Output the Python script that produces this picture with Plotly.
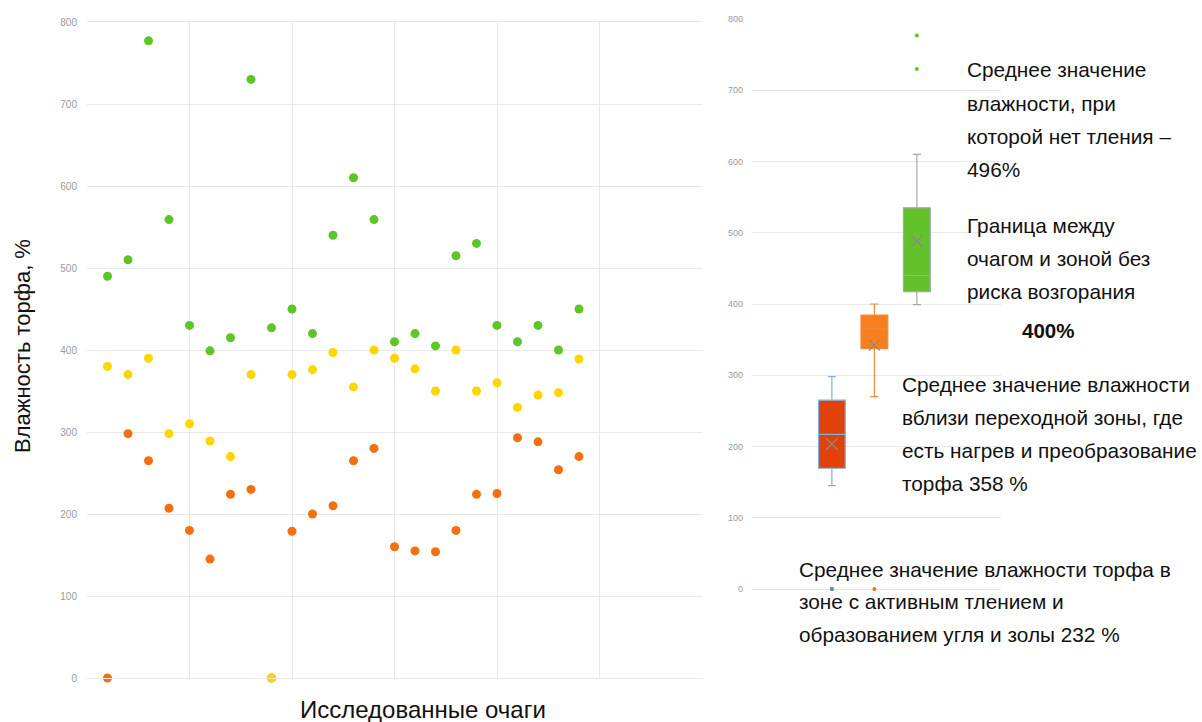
import numpy as np
import plotly.graph_objects as go

# ---------------- data ----------------
foci = list(range(1, 25))
green_vals = [490, 510, 777, 559, 430, 399, 415, 730, 427, 450, 420, 540,
              610, 559, 410, 420, 405, 515, 530, 430, 410, 430, 400, 450]
yellow_vals = [380, 370, 390, 298, 310, 289, 270, 370, 0, 370, 376, 397,
               355, 400, 390, 377, 350, 400, 350, 360, 330, 345, 348, 389]
orange_vals = [0, 298, 265, 207, 180, 145, 224, 230, 0, 179, 200, 210,
               265, 280, 160, 155, 154, 180, 224, 225, 293, 288, 254, 270]

box_names = ["Активное тление", "Переходная зона", "Без тления"]
y_ticks = [0, 100, 200, 300, 400, 500, 600, 700, 800]

y_title = "Влажность торфа, %"
x_title = "Исследованные очаги"
note_green = ["Среднее значение", "влажности, при", "которой нет тления –", "496%"]
note_border = ["Граница между", "очагом и зоной без", "риска возгорания"]
note_border_val = "400%"
note_trans = ["Среднее значение влажности", "вблизи переходной зоны, где",
              "есть нагрев и преобразование", "торфа 358 %"]
note_active = ["Среднее значение влажности торфа в", "зоне с активным тлением и",
               "образованием угля и золы 232 %"]

# ---------------- styling ----------------
W, H = 1202, 722
FONT = "Liberation Sans"
GRID = "#E8E8E8"
TICK = "#9A9A9A"
C_GREEN = "#5DC52A"
C_YELLOW = "#FFD500"
C_ORANGE = "#F4700E"


def px(x):
    return x / W


def py(y):
    return 1 - y / H


fig = go.Figure()

# scatter panel (orange drawn before yellow so the yellow zero stays visible)
for vals, col in [(green_vals, C_GREEN), (orange_vals, C_ORANGE), (yellow_vals, C_YELLOW)]:
    fig.add_trace(go.Scatter(x=foci, y=vals, mode="markers", cliponaxis=False,
                             marker=dict(color=col, size=9, line=dict(width=0)),
                             xaxis="x", yaxis="y", showlegend=False))

# box panel
box_data = [orange_vals, yellow_vals, green_vals]
box_fill = ["#E0420A", "#F77F1E", "#63C22B"]
box_line = ["#7FB2E0", "#EE8A3C", "#A6A6A6"]
out_col = ["#6E86A8", "#F4700E", C_GREEN]
for name, vals, fc, lc, oc in zip(box_names, box_data, box_fill, box_line, out_col):
    fig.add_trace(go.Box(y=vals, x=[name] * len(vals), name=name,
                         quartilemethod="exclusive", boxpoints="outliers",
                         fillcolor=fc, line=dict(color=lc, width=1.2),
                         marker=dict(color=oc, size=4),
                         whiskerwidth=0.3, xaxis="x2", yaxis="y2",
                         showlegend=False))
    fig.add_trace(go.Scatter(x=[name], y=[float(np.mean(vals))], mode="markers",
                             marker=dict(symbol="x-thin", size=11,
                                         line=dict(width=1.3, color="#8A8A8A")),
                             xaxis="x2", yaxis="y2", showlegend=False))

# right panel: 0 at y=589px, 800 at y=19px; range padded below so 0-outliers are not clipped
pad_units = 8
unit_px = (589 - 19) / 800

fig.update_layout(
    width=W, height=H, autosize=False,
    margin=dict(l=0, r=0, t=0, b=0, pad=0, autoexpand=False),
    paper_bgcolor="white", plot_bgcolor="white",
    boxmode="overlay", boxgap=0.1,
    font=dict(family=FONT, color="#222222"),
    xaxis=dict(domain=[px(87), px(702)], range=[0, 30], dtick=5, tick0=0,
               showticklabels=False, showgrid=True, gridcolor=GRID, gridwidth=1.3,
               zeroline=False, showline=True, linecolor=GRID, linewidth=1.3, mirror=True,
               ticks=""),
    yaxis=dict(domain=[py(678), py(22)], range=[0, 800], tickvals=y_ticks,
               showgrid=True, gridcolor=GRID, gridwidth=1.3, zeroline=False,
               showline=False, ticks="", ticklabelstandoff=9,
               tickfont=dict(size=10, color=TICK, family=FONT)),
    xaxis2=dict(domain=[px(752), px(1001)], type="category",
                range=[-1.88, 3.98], showticklabels=False, showgrid=False,
                zeroline=False, showline=False, ticks="", anchor="y2"),
    yaxis2=dict(domain=[py(589 + pad_units * unit_px), py(19)], range=[-pad_units, 800],
                tickvals=y_ticks,
                showgrid=True, gridcolor=GRID, gridwidth=1.3, zeroline=False,
                showline=False, ticks="", anchor="x2", ticklabelstandoff=8,
                tickfont=dict(size=9, color=TICK, family=FONT)),
)

ann = []
ann.append(dict(text=y_title, x=px(22), y=py(346), textangle=-90,
                font=dict(size=22, color="#111111", family=FONT)))
ann.append(dict(text=x_title, x=px(423), y=py(709),
                font=dict(size=24, color="#111111", family=FONT)))


def block(lines, x_left, y_first, step=33.3, size=20.8):
    for i, t in enumerate(lines):
        ann.append(dict(text=t, x=px(x_left), y=py(y_first + i * step), xanchor="left",
                        font=dict(size=size, color="#111111", family=FONT)))


block(note_green, 965, 70)
block(note_border, 965, 225)
ann.append(dict(text="<b>" + note_border_val + "</b>", x=px(1048), y=py(330),
                font=dict(size=20.5, color="#111111", family=FONT)))
block(note_trans, 900, 384)
block(note_active, 797, 569, step=32.5)

for a in ann:
    a.setdefault("xanchor", "center")
    a.update(xref="paper", yref="paper", yanchor="middle", showarrow=False)
fig.update_layout(annotations=ann)

fig.write_html("out.html",
               config={"responsive": False, "displayModeBar": False},
               post_script="document.body.style.margin='0';document.body.style.overflow='hidden';")
